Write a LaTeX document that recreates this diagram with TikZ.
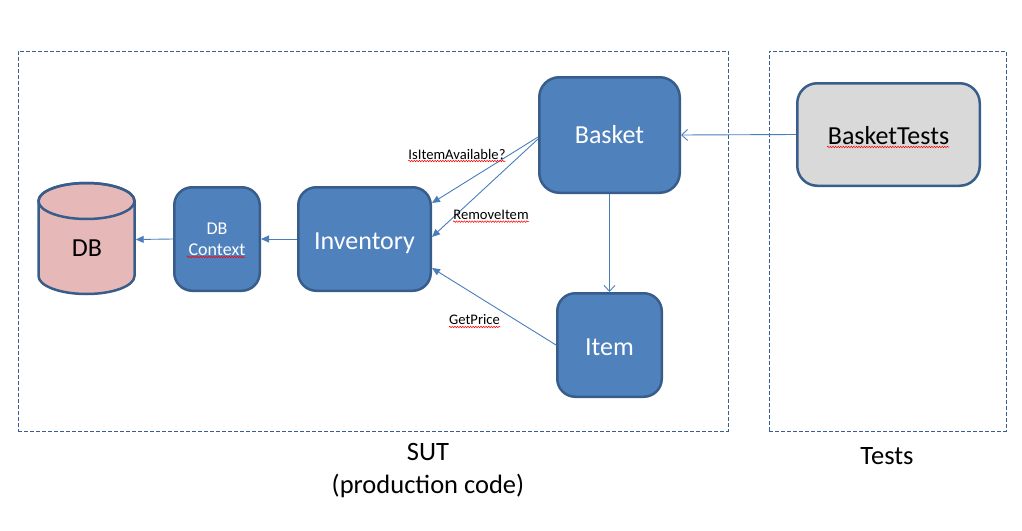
\documentclass[tikz,border=0pt]{standalone}
\usepackage{fontspec}
\setmainfont{Carlito}
\usetikzlibrary{arrows.meta,decorations.pathmorphing}
\definecolor{boxfill}{HTML}{4F81BD}
\definecolor{boxline}{HTML}{385D8A}
\definecolor{conn}{HTML}{4A7EBB}
\definecolor{frameline}{HTML}{3B5E91}
\definecolor{dbfill}{HTML}{E6B9B8}
\definecolor{testfill}{HTML}{D9D9D9}
\tikzset{
  blockbox/.style={draw=boxline, line width=2.5pt, fill=boxfill, rounded corners=18pt,
    text=white, font=\fontsize{26}{30}\selectfont, inner sep=0pt, align=center,
    text height=16.6pt, text depth=0pt},
  framebox/.style={draw=frameline, line width=0.8pt, dash pattern=on 4pt off 2pt, inner sep=0pt},
  filledarrow/.style={draw=conn, line width=0.9pt, -{Triangle[length=8pt,width=7pt]}},
  openarrow/.style={draw=conn, line width=0.9pt, -{Straight Barb[length=6pt,width=11pt,line width=0.9pt]}},
  msglabel/.style={font=\fontsize{14.6}{17}\selectfont, inner sep=0pt, text=black},
  biglabel/.style={font=\fontsize{26.5}{33}\selectfont, inner sep=0pt, align=center, text=black},
  squiggle/.style={draw=red, line width=0.5pt, decorate, decoration={snake, amplitude=0.8pt, segment length=2.6pt}},
}
\begin{document}
\begin{tikzpicture}[x=1pt,y=-1pt]
\useasboundingbox (0,0) rectangle (1022,530);

% frames
\node[framebox, minimum width=710pt, minimum height=380pt] (sut) at (373,241) {};
\node[framebox, minimum width=237pt, minimum height=380pt] (tests) at (887.5,241) {};

% blocks
\node[blockbox, minimum width=140.5pt, minimum height=115.5pt, rounded corners=20pt] (basket) at (609.5,135) {Basket};
\node[blockbox, fill=testfill, text=black, minimum width=182.5pt, minimum height=102.5pt, rounded corners=20pt] (btests) at (888.5,134.5) {\raisebox{-1.5pt}{BasketTests}};
\node[blockbox, minimum width=132.5pt, minimum height=103.5pt] (inv) at (364.5,239) {\raisebox{-2pt}{Inventory}};
\node[blockbox, minimum width=85.5pt, minimum height=103.5pt, font=\fontsize{18}{21}\selectfont,
  text height=, text depth=] (dbc) at (217,239) {\raisebox{-1.5pt}{DB}\\\raisebox{-1.5pt}{Context}};
\node[blockbox, minimum width=104.5pt, minimum height=103.5pt] (item) at (609.5,345) {\raisebox{-2pt}{Item}};

% database cylinder
\node[minimum width=98pt, minimum height=111pt, inner sep=0pt] (db) at (86.5,239.5) {};
\filldraw[fill=dbfill, draw=boxline, line width=2.5pt]
  (38.5,201) -- (38.5,276) arc[start angle=180, end angle=360, x radius=48pt, y radius=18pt]
  -- (134.5,201) arc[start angle=0, end angle=180, x radius=48pt, y radius=18pt] -- cycle;
\draw[draw=boxline, line width=2.5pt] (86.5,201) ellipse[x radius=48pt, y radius=18pt];
\node[biglabel, font=\fontsize{26}{30}\selectfont] (dbtext) at (87,248) {DB};

% connectors
\draw[openarrow] (btests.west) -- (basket.east);
\draw[openarrow] (basket.south) -- (item.north);
\draw[filledarrow] ([yshift=-2pt]basket.west) -- ([yshift=36pt]inv.east);
\draw[filledarrow] ([yshift=-4pt]basket.west) -- ([yshift=2pt]inv.east);
\draw[filledarrow] (item.west) -- ([yshift=-29pt]inv.east);
\draw[filledarrow] (inv.west) -- (dbc.east);
\draw[filledarrow] (dbc.west) -- (db.east);

% message labels
\node[msglabel] (lavail) at (457,154) {IsItemAvailable?};
\node[msglabel] (lremove) at (491,215) {RemoveItem};
\node[msglabel] (lprice) at (474.5,320) {GetPrice};

% spell-check squiggles
\draw[squiggle] ([yshift=-2pt]lavail.base west) -- ([yshift=-2pt]lavail.base east);
\draw[squiggle] ([yshift=-2pt]lremove.base west) -- ([yshift=-2pt]lremove.base east);
\draw[squiggle] ([yshift=-2pt]lprice.base west) -- ([yshift=-2pt]lprice.base east);
\draw[squiggle] (187,257) -- (245,257);
\draw[squiggle] (827,147) -- (949,147);

% frame captions
\node[biglabel] (sutlabel) at (428,471) {SUT\\(production code)};
\node[biglabel] (testslabel) at (887,456) {Tests};
\end{tikzpicture}
\end{document}
